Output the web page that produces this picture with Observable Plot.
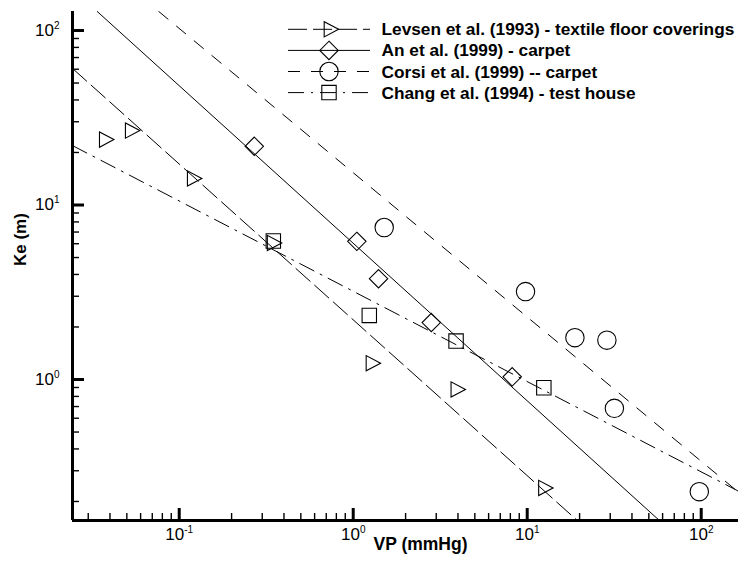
<!DOCTYPE html>
<html><head><meta charset="utf-8">
<script src="https://cdn.jsdelivr.net/npm/d3@7"></script>
<script src="https://cdn.jsdelivr.net/npm/@observablehq/plot@0.6"></script>
<style>
html,body{margin:0;padding:0;background:#fff;}
#wrap{width:738px;height:563px;}
</style></head><body><div id="wrap"></div>
<script>
// ---- axis settings / ticks ----
const xDomain = [0.02436, 163.8];
const yDomain = [0.1556, 128.5];
const xMajor = [0.1, 1, 10, 100];
const yMajor = [1, 10, 100];
const xMinor = [0.03,0.04,0.05,0.06,0.07,0.08,0.09,0.2,0.3,0.4,0.5,0.6,0.7,0.8,0.9,2,3,4,5,6,7,8,9,20,30,40,50,60,70,80,90];
const yMinor = [0.2,0.3,0.4,0.5,0.6,0.7,0.8,0.9,2,3,4,5,6,7,8,9,20,30,40,50,60,70,80,90];

// ---- series ----
const seriesNames = ["Levsen et al. (1993) - textile floor coverings","An et al. (1999) - carpet","Corsi et al. (1999) -- carpet","Chang et al. (1994) - test house"];
const levsenVP = [0.0371,0.0523,0.1188,0.342,1.265,3.89,12.4];
const levsenKe = [23.7,26.7,14.2,6.06,1.24,0.877,0.239];
const anVP = [0.270,1.049,1.398,2.81,8.2];
const anKe = [21.7,6.19,3.78,2.12,1.036];
const corsiVP = [1.507,9.78,18.8,28.7,31.7,97.5];
const corsiKe = [7.43,3.19,1.736,1.68,0.684,0.2275];
const changVP = [0.3474,1.237,3.90,12.46];
const changKe = [6.22,2.33,1.66,0.897];

// ---- fitted lines (end points) ----
const levsenFitVP = [0.02436, 19.4];
const levsenFitKe = [60.6, 0.1556];
const anFitVP = [0.0338, 57.5];
const anFitKe = [128.5, 0.1556];
const corsiFitVP = [0.0763, 163.8];
const corsiFitKe = [128.5, 0.226];
const changFitVP = [0.02436, 163.8];
const changFitKe = [21.9, 0.229];

const rows = (xs, ys) => xs.map((v, i) => ({VP: v, Ke: ys[i]}));

// custom symbols
const triRight = {draw(ctx, size){const r=Math.sqrt(size/Math.PI);ctx.moveTo(1.3*r,0);ctx.lineTo(-0.65*r,-1.03*r);ctx.lineTo(-0.65*r,1.03*r);ctx.closePath();}};
const diamond = {draw(ctx, size){const r=Math.sqrt(size/Math.PI);ctx.moveTo(0,-r);ctx.lineTo(r,0);ctx.lineTo(0,r);ctx.lineTo(-r,0);ctx.closePath();}};
const squareS = {draw(ctx, size){const r=Math.sqrt(size/Math.PI);ctx.moveTo(-r,-r);ctx.lineTo(r,-r);ctx.lineTo(r,r);ctx.lineTo(-r,r);ctx.closePath();}};

const styles = [
  {dash:"19,6", symbol:triRight, r:7.4},
  {dash:null, symbol:diamond, r:9.2},
  {dash:"12,11", symbol:"circle", r:9.2},
  {dash:"16,7,2,7", symbol:squareS, r:7.2}
];
const fits = [rows(levsenFitVP,levsenFitKe), rows(anFitVP,anFitKe), rows(corsiFitVP,corsiFitKe), rows(changFitVP,changFitKe)];
const pts = [rows(levsenVP,levsenKe), rows(anVP,anKe), rows(corsiVP,corsiKe), rows(changVP,changKe)];

const supFmt = d => "10^" + Math.round(Math.log10(d));
const W = 738, H = 563, mL = 72, mR = 0, mT = 11, mB = 43;
const fW = W - mL - mR, fH = H - mT - mB;

const marks = [];
fits.forEach((f, i) => marks.push(Plot.line(f, {x:"VP", y:"Ke", stroke:"black", strokeWidth:1, strokeDasharray: styles[i].dash || undefined, clip:true})));
pts.forEach((p, i) => marks.push(Plot.dot(p, {x:"VP", y:"Ke", symbol: styles[i].symbol, r: styles[i].r, stroke:"black", fill:"none", strokeWidth:1.1})));
marks.push(
  Plot.tickX(xMinor, {x: d => d, insetTop: fH - 7, strokeWidth: 1.4}),
  Plot.tickX(xMajor, {x: d => d, insetTop: fH - 12, strokeWidth: 3}),
  Plot.tickY(yMinor, {y: d => d, insetRight: fW - 7, strokeWidth: 1.4}),
  Plot.tickY(yMajor, {y: d => d, insetRight: fW - 12, strokeWidth: 3}),
  Plot.ruleX([xDomain[0]], {strokeWidth: 3}),
  Plot.ruleY([yDomain[0]], {strokeWidth: 3}),
  Plot.axisX({ticks: xMajor, tickSize: 0, tickPadding: 7, tickFormat: supFmt, label: null, fontSize: 17}),
  Plot.axisY({ticks: yMajor, tickSize: 0, tickPadding: 13, tickFormat: supFmt, label: null, fontSize: 17}),
  Plot.text(["VP (mmHg)"], {text: d => d, frameAnchor: "bottom", dy: 29, dx: 15, fontWeight: "bold", fontSize: 17.5}),
  Plot.text(["Ke (m)"], {text: d => d, frameAnchor: "left", dx: -52, rotate: -90, fontWeight: "bold", fontSize: 17})
);

const svg = Plot.plot({
  width: W, height: H, marginLeft: mL, marginRight: mR, marginTop: mT, marginBottom: mB,
  style: {fontFamily: '"Liberation Sans", Arial, sans-serif', fontSize: "17px", color: "black", background: "white", overflow: "visible"},
  x: {type: "log", domain: xDomain},
  y: {type: "log", domain: yDomain},
  marks
});
document.getElementById("wrap").appendChild(svg);

// superscript tick labels
d3.select(svg).selectAll("text").each(function(){
  const t = this.textContent;
  const m = /^10\^(-?\d+)$/.exec(t);
  if (!m) return;
  const el = d3.select(this);
  el.text(null);
  el.append("tspan").text("10");
  el.append("tspan").attr("dy", "-7").attr("font-size", "10px").text(m[1]);
});

// legend
const lg = d3.select(svg).append("g").attr("font-family", '"Liberation Sans", Arial, sans-serif').attr("text-anchor", "start");
seriesNames.forEach((name, i) => {
  const y = 29.3 + i * 21.1;
  lg.append("line").attr("x1", 288).attr("x2", 370).attr("y1", y).attr("y2", y)
    .attr("stroke", "black").attr("stroke-width", 1).attr("stroke-dasharray", styles[i].dash || null);
  const s = styles[i];
  const size = Math.PI * s.r * s.r;
  if (s.symbol === "circle") {
    lg.append("circle").attr("cx", 329).attr("cy", y).attr("r", s.r).attr("fill", "none").attr("stroke", "black").attr("stroke-width", 1.1);
  } else {
    lg.append("path").attr("d", d3.symbol(s.symbol, size)()).attr("transform", `translate(329,${y})`)
      .attr("fill", "none").attr("stroke", "black").attr("stroke-width", 1.1);
  }
  lg.append("text").attr("x", 381.5).attr("y", y + 6).attr("text-anchor", "start").attr("font-weight", "bold").attr("font-size", 17.25).attr("fill", "black").text(name);
});
</script></body></html>
